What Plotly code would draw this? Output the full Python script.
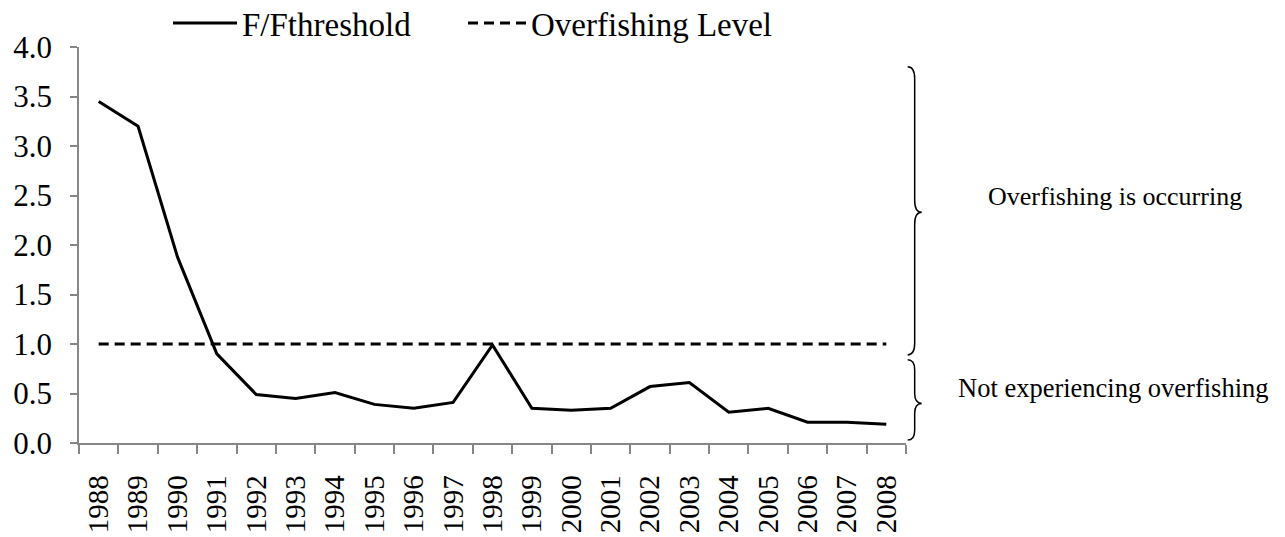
import plotly.graph_objects as go

years = [str(y) for y in range(1988, 2009)]
f_ratio = [3.45, 3.20, 1.88, 0.90, 0.49, 0.45, 0.51, 0.39, 0.35, 0.41, 0.99,
           0.35, 0.33, 0.35, 0.57, 0.61, 0.31, 0.35, 0.21, 0.21, 0.19]
overfishing_level = [1.0] * len(years)
y_ticks = [0, 0.5, 1.0, 1.5, 2.0, 2.5, 3.0, 3.5, 4.0]

FONT = "Liberation Serif"

fig = go.Figure()
fig.add_trace(go.Scatter(x=years, y=f_ratio, mode="lines", name="F/Fthreshold",
                         line=dict(color="black", width=3), legend="legend"))
fig.add_trace(go.Scatter(x=years, y=overfishing_level, mode="lines", name="Overfishing Level",
                         line=dict(color="black", width=3, dash="10px,6px"), legend="legend2"))


def brace(x_left, x_right, y_top, y_bot, y_tip, d):
    xm = (x_left + x_right) / 2
    return (f"M {x_left},{y_top} Q {xm},{y_top} {xm},{y_top - d} "
            f"L {xm},{y_tip + d} Q {xm},{y_tip} {x_right},{y_tip} "
            f"Q {xm},{y_tip} {xm},{y_tip - d} "
            f"L {xm},{y_bot + d} Q {xm},{y_bot} {x_left},{y_bot}")

bx0, bx1 = 1.002, 1.019
shapes = [
    dict(type="path", xref="paper", yref="y", path=brace(bx0, bx1, 3.80, 0.89, 2.33, 0.12),
         line=dict(color="black", width=1.5)),
    dict(type="path", xref="paper", yref="y", path=brace(bx0, bx1, 0.84, 0.03, 0.40, 0.1),
         line=dict(color="black", width=1.5)),
]

annotations = [
    dict(text="Overfishing is occurring", xref="paper", yref="y", x=1.2527, y=2.49,
         showarrow=False, font=dict(family=FONT, size=26, color="black"), xanchor="center"),
    dict(text="Not experiencing overfishing", xref="paper", yref="y", x=1.2515, y=0.555,
         showarrow=False, font=dict(family=FONT, size=26.5, color="black"), xanchor="center"),
]

W, H = 1277, 529
legend_common = dict(orientation="h", xref="container", yref="container",
                     y=1 - 15 / H, xanchor="left", yanchor="middle",
                     font=dict(family=FONT, size=33, color="black"),
                     bgcolor="rgba(0,0,0,0)")
fig.update_layout(
    width=W, height=H,
    margin=dict(l=71, r=379, t=39, b=94, autoexpand=False),
    paper_bgcolor="white", plot_bgcolor="white",
    font=dict(family=FONT, size=31, color="black"),
    showlegend=True,
    legend=dict(x=160 / W, itemwidth=64, **legend_common),
    legend2=dict(x=455 / W, itemwidth=58, **legend_common),
    shapes=shapes,
    annotations=annotations,
)
fig.update_xaxes(type="category", range=[-0.5, 20.5], tickson="boundaries",
                 ticks="outside", ticklen=9, tickcolor="#868686", tickwidth=1.5,
                 showline=True, linecolor="#868686", linewidth=1.5, showgrid=False,
                 tickangle=-90, ticklabelstandoff=19, automargin=False,
                 tickfont=dict(family=FONT, size=29, color="black"))
fig.update_yaxes(range=[0, 4], tickvals=y_ticks, tickformat=".1f",
                 ticks="outside", ticklen=7, tickcolor="#868686", tickwidth=1.5,
                 showline=True, linecolor="#868686", linewidth=1.5, showgrid=False,
                 zeroline=False, ticklabelstandoff=12, automargin=False,
                 tickfont=dict(family=FONT, size=31, color="black"))

fig.write_html("out.html")
